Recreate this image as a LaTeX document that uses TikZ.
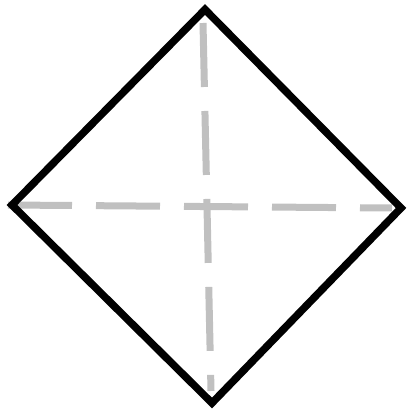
\documentclass[tikz,border=0pt]{standalone}
\begin{document}
\begin{tikzpicture}[x=1pt,y=-1pt,
  edgeline/.style={line width=7.5pt,black,line join=miter},
  foldline/.style={line width=7pt,color={rgb,255:red,192;green,192;blue,192},dash pattern=on 64pt off 24pt}]
\useasboundingbox (0,0) rectangle (406,411);
\coordinate (T) at (205,9.5);
\coordinate (L) at (12,205);
\coordinate (R) at (401,208);
\coordinate (B) at (212,403);
\coordinate (hs) at (8,205);
\coordinate (he) at (392,208);
\coordinate (vs) at (203,23);
\coordinate (ve) at (211,391);
\draw[foldline] (hs) -- (he);
\draw[foldline] (vs) -- (ve);
\draw[edgeline] (T) -- (R) -- (B) -- (L) -- cycle;
\end{tikzpicture}
\end{document}
